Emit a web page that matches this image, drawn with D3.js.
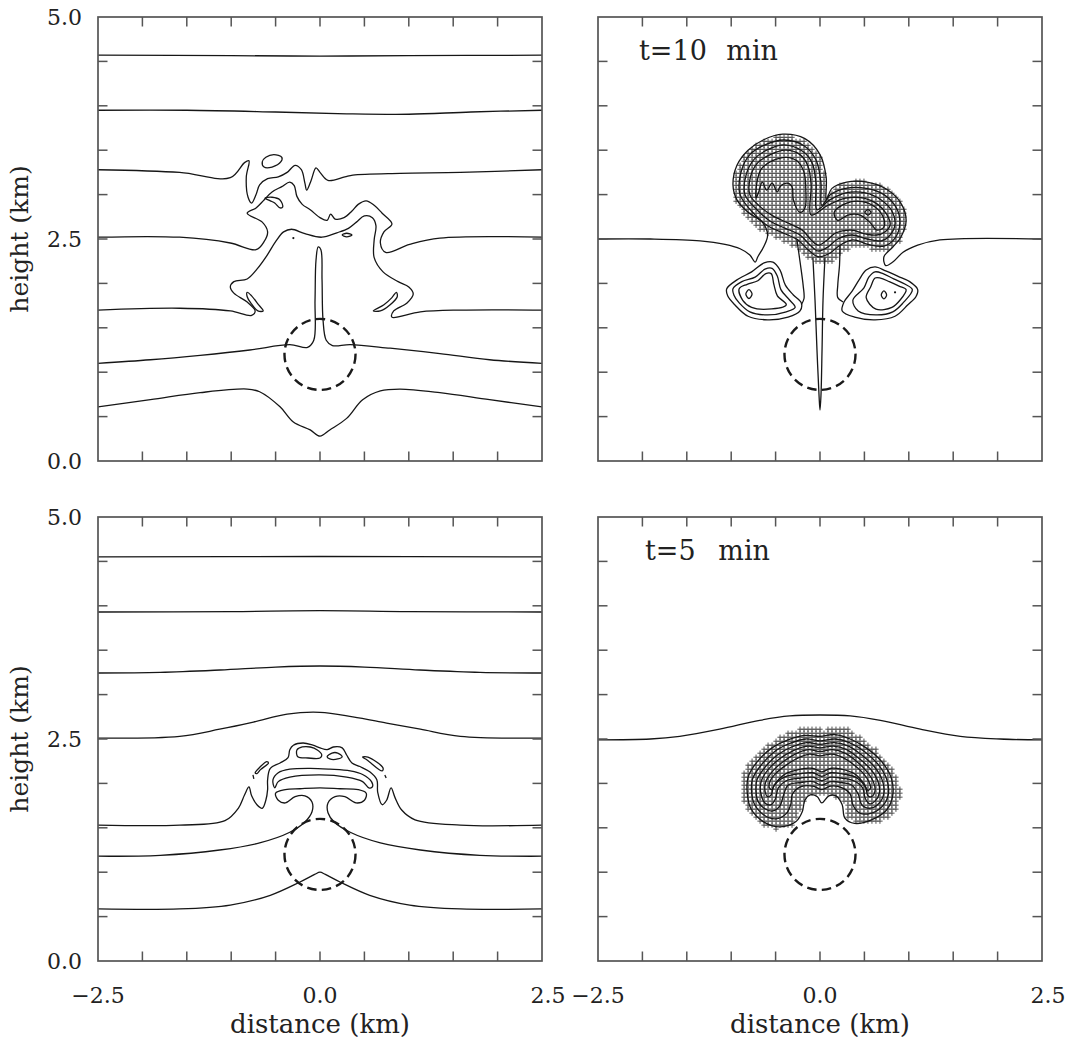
<!DOCTYPE html>
<html><head><meta charset="utf-8">
<script src="https://cdn.jsdelivr.net/npm/d3@7"></script>
<style>body{margin:0;background:#fff}svg{display:block}text{font-family:"DejaVu Serif",serif;fill:#222}</style>
</head><body><svg id="c" width="1070" height="1042"></svg>
<script>
// ---------- axes data (km) ----------
const xTickValues = [-2.0,-1.5,-1.0,-0.5,0,0.5,1.0,1.5,2.0];
const yTickValues = [0.5,1.0,1.5,2.0,2.5,3.0,3.5,4.0,4.5];
const xLabelValues = [-2.5,0.0,2.5];
const yLabelValues = [0.0,2.5,5.0];
const bubble = {cx:0, cy:1.2, r:0.4};

// ---------- top-left panel (later time) ----------
const tlLineA = [[-2.5,4.57],[-1.0,4.565],[0,4.56],[1.0,4.565],[2.5,4.57]];
const tlLineB = [[-2.5,3.95],[-1.5,3.95],[-0.5,3.93],[0.3,3.91],[1.0,3.905],[1.7,3.93],[2.5,3.95]];
const tlLineC = [[-2.5,3.28],[-1.58,3.25],[-1.01,3.19],[-0.85,3.36],[-0.80,3.38],[-0.83,3.20],[-0.81,2.97],[-0.77,2.905],[-0.72,3.00],[-0.68,3.11],[-0.59,3.18],[-0.47,3.20],[-0.37,3.25],[-0.28,3.33],[-0.21,3.28],[-0.17,3.13],[-0.15,3.05],[-0.10,3.16],[-0.045,3.30],[0,3.25],[0.09,3.16],[0.28,3.20],[0.37,3.22],[0.90,3.24],[1.58,3.25],[2.5,3.28]];
const tlLineD = [[-2.5,2.52],[-1.58,2.52],[-1.01,2.455],[-0.72,2.38],[-0.63,2.47],[-0.59,2.58],[-0.65,2.69],[-0.82,2.79],[-0.72,2.85],[-0.63,2.94],[-0.54,3.03],[-0.43,3.09],[-0.34,3.14],[-0.29,3.10],[-0.26,2.98],[-0.20,2.89],[-0.11,2.83],[0,2.74],[0.08,2.71],[0.12,2.78],[0.17,2.725],[0.27,2.74],[0.36,2.815],[0.43,2.89],[0.52,2.93],[0.61,2.88],[0.70,2.79],[0.81,2.67],[0.72,2.58],[0.68,2.455],[0.74,2.35],[1.01,2.44],[1.35,2.51],[2.5,2.52]];
const tlLineE = [[-2.5,1.70],[-1.58,1.72],[-1.01,1.69],[-0.77,1.64],[-0.73,1.69],[-0.82,1.79],[-0.97,1.89],[-1.01,1.96],[-0.97,2.02],[-0.82,2.05],[-0.71,2.16],[-0.60,2.31],[-0.50,2.47],[-0.41,2.58],[-0.32,2.61],[-0.17,2.56],[0.02,2.52],[0.19,2.57],[0.32,2.62],[0.41,2.69],[0.50,2.76],[0.59,2.74],[0.63,2.65],[0.61,2.49],[0.61,2.29],[0.71,2.13],[0.88,2.02],[1.00,1.96],[1.05,1.88],[0.98,1.78],[0.83,1.69],[0.81,1.62],[1.13,1.68],[1.58,1.70],[2.5,1.70]];
const tlLineF = [[-2.5,1.10],[-1.91,1.14],[-1.35,1.19],[-0.79,1.25],[-0.34,1.31],[-0.14,1.28],[-0.07,1.36],[-0.056,1.81],[-0.045,2.26],[-0.02,2.41],[0.01,2.38],[0.023,2.04],[0.034,1.59],[0.07,1.36],[0.14,1.30],[0.34,1.31],[0.79,1.27],[1.35,1.21],[1.91,1.14],[2.5,1.10]];
const tlLineG = [[-2.5,0.61],[-1.91,0.69],[-1.35,0.77],[-0.82,0.81],[-0.68,0.78],[-0.45,0.61],[-0.30,0.44],[-0.11,0.35],[0,0.28],[0.11,0.35],[0.30,0.48],[0.48,0.69],[0.68,0.79],[0.90,0.81],[1.35,0.77],[1.91,0.69],[2.5,0.61]];
const tlHead = [[-0.65,3.37],[-0.61,3.42],[-0.52,3.45],[-0.43,3.42],[-0.44,3.37],[-0.54,3.31],[-0.63,3.31]];
const tlLoopSmall = [[-0.62,2.96],[-0.54,2.97],[-0.45,2.94],[-0.42,2.86],[-0.45,2.85],[-0.51,2.905],[-0.56,2.93]];
const tlEllipse = [[0.25,2.545],[0.30,2.565],[0.36,2.545],[0.30,2.525]];
const tlLeafL = [[-0.82,1.90],[-0.77,1.86],[-0.70,1.77],[-0.64,1.69],[-0.70,1.69],[-0.78,1.78],[-0.82,1.85]];
const tlLeafR = [[0.86,1.90],[0.81,1.84],[0.72,1.76],[0.60,1.69],[0.68,1.69],[0.79,1.76],[0.87,1.85]];
const tlDots = [[-0.30,2.51]];

// ---------- top-right panel (t=10 min) ----------
const trLine25 = [[-2.5,2.5],[-1.91,2.5],[-1.35,2.48],[-1.07,2.44],[-0.90,2.39],[-0.79,2.32],[-0.73,2.24],[-0.70,2.30],[-0.63,2.42],[-0.59,2.545],[-0.65,2.69],[-0.81,2.80],[-0.935,2.94],[-0.98,3.11],[-0.935,3.33],[-0.81,3.50],[-0.64,3.615],[-0.42,3.68],[-0.17,3.63],[0,3.45],[0.07,3.19],[0.07,2.94],[0.135,3.07],[0.30,3.14],[0.53,3.14],[0.75,3.06],[0.91,2.905],[0.97,2.71],[0.91,2.52],[0.82,2.41],[0.72,2.30],[0.74,2.20],[0.82,2.24],[0.935,2.35],[1.10,2.43],[1.35,2.49],[2.5,2.5]];
const trL1 = [[-0.90,3.00],[-0.89,3.25],[-0.79,3.45],[-0.62,3.56],[-0.405,3.615],[-0.18,3.55],[-0.045,3.39],[0.01,3.14],[0.02,2.88],[0.12,3.00],[0.29,3.07],[0.52,3.07],[0.72,3.00],[0.86,2.85],[0.90,2.68],[0.845,2.51],[0.72,2.42],[0.54,2.44],[0.37,2.49],[0.225,2.43],[0.11,2.34],[-0.02,2.30],[-0.135,2.38],[-0.25,2.49],[-0.42,2.57],[-0.59,2.65],[-0.74,2.78]];
const trL2 = [[-0.845,3.00],[-0.83,3.23],[-0.74,3.40],[-0.60,3.50],[-0.405,3.56],[-0.20,3.49],[-0.09,3.36],[-0.045,3.13],[-0.034,2.83],[0.11,2.94],[0.29,3.02],[0.51,3.02],[0.69,2.94],[0.81,2.815],[0.845,2.67],[0.79,2.545],[0.69,2.48],[0.53,2.50],[0.36,2.545],[0.20,2.50],[0.09,2.41],[-0.02,2.365],[-0.11,2.43],[-0.225,2.545],[-0.39,2.62],[-0.56,2.70],[-0.71,2.83]];
const trL3 = [[-0.79,3.00],[-0.78,3.21],[-0.70,3.36],[-0.56,3.45],[-0.39,3.50],[-0.225,3.45],[-0.135,3.32],[-0.10,3.11],[-0.10,2.77],[0.09,2.88],[0.29,2.96],[0.495,2.96],[0.65,2.89],[0.75,2.78],[0.79,2.66],[0.73,2.58],[0.64,2.545],[0.52,2.555],[0.35,2.60],[0.18,2.57],[0.07,2.48],[-0.02,2.43],[-0.10,2.49],[-0.20,2.60],[-0.36,2.68],[-0.53,2.76],[-0.68,2.87]];
const trL4 = [[-0.72,2.96],[-0.71,3.14],[-0.66,3.29],[-0.54,3.38],[-0.38,3.42],[-0.26,3.38],[-0.18,3.25],[-0.16,3.05],[-0.17,2.85],[-0.225,2.80],[-0.30,2.94],[-0.315,3.09],[-0.37,3.13],[-0.45,3.09],[-0.48,3.03],[-0.54,3.13],[-0.60,3.05],[-0.65,3.14],[-0.69,3.03]];
const trR4 = [[0.16,2.80],[0.30,2.905],[0.48,2.92],[0.62,2.86],[0.71,2.75],[0.72,2.635],[0.64,2.60],[0.56,2.69],[0.45,2.77],[0.315,2.77],[0.20,2.71]];
const trRloop = [[0.505,2.80],[0.54,2.83],[0.575,2.80],[0.54,2.77]];
const trStalk = [[-0.08,2.29],[-0.056,1.81],[-0.034,1.25],[-0.011,0.74],[0,0.574],[0.011,0.74],[0.023,1.25],[0.034,1.81],[0.056,2.29]];
const trNeckL = [[-0.26,2.49],[-0.22,2.21],[-0.19,1.98],[-0.18,1.83],[-0.21,1.76]];
const trNeckR = [[0.225,2.43],[0.22,2.21],[0.20,1.98],[0.20,1.84],[0.26,1.79]];
const trLL1 = [[-1.05,1.94],[-0.935,2.04],[-0.77,2.13],[-0.63,2.23],[-0.53,2.24],[-0.45,2.15],[-0.39,1.98],[-0.30,1.87],[-0.21,1.78],[-0.225,1.69],[-0.36,1.62],[-0.59,1.59],[-0.81,1.63],[-0.96,1.76],[-1.04,1.86]];
const trLL2 = [[-0.98,1.94],[-0.88,2.02],[-0.73,2.07],[-0.62,2.16],[-0.54,2.17],[-0.48,2.08],[-0.44,1.93],[-0.34,1.81],[-0.28,1.73],[-0.38,1.68],[-0.59,1.645],[-0.79,1.68],[-0.91,1.78],[-0.97,1.87]];
const trLL3 = [[-0.91,1.94],[-0.82,1.99],[-0.70,2.03],[-0.61,2.11],[-0.55,2.11],[-0.52,1.99],[-0.48,1.86],[-0.38,1.76],[-0.59,1.71],[-0.77,1.73],[-0.87,1.81]];
const trLLin = [[-0.835,1.88],[-0.80,1.93],[-0.765,1.88],[-0.80,1.83]];
const trRL1 = [[1.10,1.93],[1.01,2.02],[0.88,2.08],[0.74,2.14],[0.62,2.185],[0.52,2.15],[0.44,2.04],[0.36,1.91],[0.27,1.79],[0.25,1.69],[0.39,1.62],[0.62,1.59],[0.845,1.63],[0.99,1.76],[1.08,1.85]];
const trRL2 = [[1.04,1.93],[0.96,1.99],[0.83,2.05],[0.71,2.11],[0.62,2.13],[0.55,2.07],[0.495,1.95],[0.37,1.81],[0.43,1.69],[0.63,1.645],[0.82,1.68],[0.935,1.78]];
const trRL3 = [[0.97,1.93],[0.89,1.97],[0.78,2.02],[0.68,2.06],[0.62,2.06],[0.57,1.96],[0.52,1.84],[0.63,1.71],[0.81,1.73],[0.90,1.81]];
const trRLin = [[0.69,1.87],[0.72,1.915],[0.75,1.87],[0.72,1.825]];
const trDots = [[0.845,1.90]];
const trHatch = [[-0.96,2.94],[-0.95,3.25],[-0.845,3.48],[-0.65,3.615],[-0.405,3.68],[-0.16,3.615],[0,3.435],[0.07,3.16],[0.08,2.98],[0.20,3.11],[0.405,3.16],[0.63,3.14],[0.82,3.05],[0.945,2.88],[0.98,2.69],[0.92,2.49],[0.79,2.38],[0.60,2.38],[0.405,2.42],[0.26,2.35],[0.15,2.25],[0,2.22],[-0.16,2.29],[-0.28,2.41],[-0.45,2.49],[-0.63,2.57],[-0.81,2.71]];

// ---------- bottom-left panel ----------
const blLineA = [[-2.5,4.55],[0,4.555],[2.5,4.55]];
const blLineB = [[-2.5,3.93],[-1.0,3.935],[0,3.945],[1.0,3.935],[2.5,3.93]];
const blLineC = [[-2.5,3.243],[-1.8,3.25],[-1.126,3.277],[-0.5,3.31],[0,3.322],[0.5,3.31],[1.126,3.277],[1.8,3.25],[2.5,3.243]];
const blLineD = [[-2.5,2.51],[-1.58,2.53],[-1.13,2.61],[-0.75,2.69],[-0.37,2.78],[0,2.80],[0.37,2.75],[0.75,2.68],[1.13,2.61],[1.58,2.53],[2.5,2.51]];
const blLineE = [[-2.5,1.53],[-1.58,1.53],[-1.07,1.58],[-0.92,1.72],[-0.85,1.87],[-0.80,1.96],[-0.77,1.86],[-0.71,1.76],[-0.65,1.72],[-0.61,1.81],[-0.59,1.93],[-0.59,2.04],[-0.56,2.17],[-0.45,2.23],[-0.36,2.29],[-0.34,2.38],[-0.30,2.43],[-0.19,2.455],[-0.08,2.43],[0,2.40],[0.08,2.38],[0.15,2.41],[0.25,2.40],[0.30,2.32],[0.36,2.23],[0.45,2.19],[0.56,2.13],[0.64,2.04],[0.65,1.90],[0.70,1.76],[0.75,1.81],[0.80,1.95],[0.845,1.84],[0.92,1.70],[1.07,1.59],[1.58,1.53],[2.5,1.53]];
const blArch = [[-0.53,2.04],[-0.47,2.12],[-0.34,2.16],[-0.11,2.17],[0.11,2.16],[0.34,2.14],[0.48,2.10],[0.58,2.02],[0.59,1.96],[0.55,1.95],[0.48,2.02],[0.30,2.07],[0,2.095],[-0.34,2.07],[-0.47,2.02],[-0.51,1.95]];
const blTopLoopL = [[-0.26,2.376],[-0.20,2.41],[-0.11,2.41],[-0.03,2.376],[0.02,2.32],[0,2.286],[-0.135,2.286],[-0.25,2.30]];
const blTopLoopR = [[0.08,2.30],[0.135,2.342],[0.20,2.342],[0.25,2.30],[0.20,2.275],[0.11,2.275]];
const blBitL = [[-0.73,2.12],[-0.68,2.18],[-0.60,2.245],[-0.58,2.23],[-0.67,2.155],[-0.71,2.11]];
const blBitR = [[0.48,2.297],[0.54,2.297],[0.71,2.173],[0.70,2.14],[0.53,2.264]];
const blTinyL = [[-0.755,2.095],[-0.745,2.05]];
const blTinyR = [[0.73,2.095],[0.745,2.06]];
const blLineF = [[-2.5,1.18],[-1.80,1.19],[-1.13,1.25],[-0.68,1.33],[-0.34,1.45],[-0.17,1.565],[-0.09,1.68],[-0.09,1.79],[-0.17,1.86],[-0.28,1.85],[-0.39,1.78],[-0.47,1.81],[-0.50,1.89],[-0.39,1.93],[-0.225,1.94],[0,1.95],[0.225,1.94],[0.43,1.93],[0.52,1.89],[0.50,1.81],[0.405,1.78],[0.28,1.85],[0.17,1.85],[0.09,1.78],[0.09,1.67],[0.16,1.565],[0.34,1.45],[0.68,1.33],[1.13,1.25],[1.80,1.19],[2.5,1.18]];
const blLineG = [[-2.5,0.586],[-1.58,0.586],[-1.01,0.63],[-0.56,0.74],[-0.225,0.89],[-0.06,0.975],[0,1.0],[0.06,0.975],[0.225,0.89],[0.56,0.74],[1.01,0.63],[1.58,0.586],[2.5,0.586]];

// ---------- bottom-right panel (t=5 min) ----------
const br25 = [[-2.5,2.49],[-1.91,2.50],[-1.58,2.53],[-1.13,2.61],[-0.68,2.71],[-0.34,2.76],[0,2.77],[0.34,2.76],[0.68,2.71],[1.13,2.61],[1.58,2.53],[2.03,2.50],[2.5,2.49]];
const brK0 = [[-0.82,1.90],[-0.81,2.07],[-0.71,2.24],[-0.54,2.40],[-0.36,2.49],[-0.17,2.54],[0,2.53],[0.17,2.55],[0.34,2.50],[0.52,2.40],[0.69,2.25],[0.80,2.07],[0.82,1.87],[0.75,1.70],[0.58,1.59],[0.39,1.55],[0.28,1.61],[0.25,1.76],[0.18,1.86],[0.10,1.86],[0.02,1.78],[-0.03,1.85],[-0.11,1.87],[-0.17,1.81],[-0.20,1.68],[-0.27,1.57],[-0.45,1.51],[-0.64,1.57],[-0.78,1.72]];
const brK1 = [[-0.77,1.90],[-0.76,2.05],[-0.66,2.21],[-0.51,2.36],[-0.34,2.45],[-0.16,2.50],[0,2.48],[0.17,2.50],[0.33,2.46],[0.50,2.36],[0.65,2.22],[0.75,2.05],[0.77,1.88],[0.70,1.74],[0.56,1.66],[0.44,1.67],[0.37,1.76],[0.34,1.88],[0.25,1.95],[0.12,1.97],[0.02,1.93],[-0.08,1.97],[-0.22,1.96],[-0.31,1.88],[-0.33,1.76],[-0.38,1.66],[-0.50,1.60],[-0.64,1.65],[-0.74,1.77]];
const brK2 = [[-0.72,1.90],[-0.71,2.04],[-0.62,2.18],[-0.48,2.32],[-0.32,2.41],[-0.15,2.46],[0,2.44],[0.16,2.46],[0.32,2.42],[0.47,2.32],[0.61,2.19],[0.70,2.04],[0.72,1.89],[0.66,1.77],[0.56,1.72],[0.47,1.76],[0.43,1.88],[0.36,1.98],[0.24,2.01],[0.12,2.02],[0.02,1.98],[-0.08,2.02],[-0.22,2.01],[-0.36,1.98],[-0.41,1.87],[-0.45,1.75],[-0.53,1.69],[-0.63,1.72],[-0.70,1.80]];
const brK3 = [[-0.67,1.91],[-0.66,2.03],[-0.58,2.16],[-0.45,2.28],[-0.30,2.37],[-0.14,2.42],[0,2.40],[0.15,2.42],[0.30,2.38],[0.44,2.28],[0.57,2.16],[0.65,2.03],[0.67,1.90],[0.62,1.80],[0.56,1.77],[0.51,1.83],[0.48,1.95],[0.38,2.03],[0.24,2.06],[0.12,2.07],[0.02,2.03],[-0.08,2.07],[-0.22,2.06],[-0.38,2.03],[-0.47,1.95],[-0.50,1.83],[-0.55,1.76],[-0.62,1.78]];
const brK4 = [[-0.62,1.92],[-0.61,2.02],[-0.54,2.13],[-0.42,2.24],[-0.28,2.33],[-0.13,2.38],[0,2.36],[0.14,2.38],[0.28,2.34],[0.41,2.25],[0.53,2.13],[0.60,2.02],[0.62,1.92],[0.58,1.85],[0.54,1.86],[0.51,1.96],[0.40,2.07],[0.24,2.11],[0.12,2.12],[0.02,2.08],[-0.08,2.12],[-0.22,2.11],[-0.40,2.07],[-0.52,1.97],[-0.55,1.87],[-0.59,1.85]];
const brK5 = [[-0.57,1.95],[-0.56,2.03],[-0.50,2.11],[-0.39,2.20],[-0.26,2.28],[-0.12,2.33],[0,2.31],[0.13,2.33],[0.26,2.29],[0.38,2.21],[0.49,2.11],[0.55,2.02],[0.57,1.95],[0.54,1.92],[0.50,1.99],[0.40,2.10],[0.24,2.16],[0.12,2.17],[0.02,2.13],[-0.08,2.17],[-0.22,2.16],[-0.40,2.10],[-0.51,1.99],[-0.54,1.93]];
const brHatch = [[-0.90,1.88],[-0.89,2.08],[-0.78,2.28],[-0.58,2.45],[-0.38,2.56],[-0.20,2.64],[-0.05,2.64],[0.05,2.60],[0.15,2.65],[0.30,2.62],[0.45,2.52],[0.62,2.40],[0.78,2.22],[0.88,2.04],[0.92,1.86],[0.86,1.68],[0.70,1.56],[0.50,1.53],[0.32,1.60],[0.26,1.80],[0.15,1.86],[-0.15,1.86],[-0.22,1.70],[-0.30,1.53],[-0.48,1.48],[-0.68,1.54],[-0.83,1.70]];

// ---------- drawing ----------
const svg = d3.select('#c');
svg.append('rect').attr('width',1070).attr('height',1042).attr('fill','#fff');
const SIZE = 444;
const panels = [
  {x0:98, y0:17, open:[tlLineA,tlLineB,tlLineC,tlLineD,tlLineE,tlLineF,tlLineG], closed:[tlHead,tlLoopSmall,tlEllipse,tlLeafL,tlLeafR], dots:tlDots, hatch:null, yLab:true, xLab:false},
  {x0:598, y0:17, open:[trLine25,trStalk,trNeckL,trNeckR], closed:[trL1,trL2,trL3,trL4,trR4,trRloop,trLL1,trLL2,trLL3,trLLin,trRL1,trRL2,trRL3,trRLin], dots:trDots, hatch:trHatch, yLab:false, xLab:false, title:['t=10','min',639,778,60]},
  {x0:98, y0:517, open:[blLineA,blLineB,blLineC,blLineD,blLineE,blLineF,blLineG,blTinyL,blTinyR], closed:[blArch,blTopLoopL,blTopLoopR,blBitL,blBitR], dots:[], hatch:null, yLab:true, xLab:true},
  {x0:598, y0:517, open:[br25], closed:[brK0,brK1,brK2,brK3,brK4,brK5], dots:[], hatch:brHatch, yLab:false, xLab:true, title:['t=5','min',645,770,560]}
];
const frameColor = '#555';

panels.forEach((p,i)=>{
  const x = d3.scaleLinear().domain([-2.5,2.5]).range([p.x0, p.x0+SIZE]);
  const y = d3.scaleLinear().domain([0,5]).range([p.y0+SIZE, p.y0]);
  const clipId = 'clip'+i;
  svg.append('clipPath').attr('id',clipId).append('rect')
    .attr('x',p.x0).attr('y',p.y0).attr('width',SIZE).attr('height',SIZE);
  const g = svg.append('g').attr('clip-path',`url(#${clipId})`);

  if (p.hatch){
    const step=0.045, arm=0.03;
    const [hx0,hx1]=d3.extent(p.hatch,d=>d[0]), [hy0,hy1]=d3.extent(p.hatch,d=>d[1]);
    let path='';
    const a = x(arm)-x(0);
    for (let gx=Math.ceil(hx0/step)*step; gx<=hx1; gx+=step)
      for (let gy=Math.ceil(hy0/step)*step; gy<=hy1; gy+=step)
        if (d3.polygonContains(p.hatch,[gx,gy])){
          const X=x(gx), Y=y(gy);
          path+=`M${X-a},${Y}H${X+a}M${X},${Y-a}V${Y+a}`;
        }
    g.append('path').attr('d',path).attr('stroke','#333').attr('stroke-width',0.85).attr('fill','none');
  }

  const lineOpen = d3.line().x(d=>x(d[0])).y(d=>y(d[1])).curve(d3.curveCatmullRom.alpha(0.5));
  const lineClosed = d3.line().x(d=>x(d[0])).y(d=>y(d[1])).curve(d3.curveCatmullRomClosed.alpha(0.5));
  g.selectAll(null).data(p.open).join('path').attr('d',lineOpen)
    .attr('fill','none').attr('stroke','#161616').attr('stroke-width',1.3);
  g.selectAll(null).data(p.closed).join('path').attr('d',lineClosed)
    .attr('fill','none').attr('stroke','#161616').attr('stroke-width',1.3);
  g.selectAll(null).data(p.dots).join('circle').attr('cx',d=>x(d[0])).attr('cy',d=>y(d[1]))
    .attr('r',1.1).attr('fill','#161616');

  // dashed bubble outline
  g.append('circle').attr('cx',x(bubble.cx)).attr('cy',y(bubble.cy)).attr('r',x(bubble.r)-x(0))
    .attr('fill','none').attr('stroke','#1a1a1a').attr('stroke-width',2.4).attr('stroke-dasharray','9.5,5.3');

  // frame + ticks
  svg.append('rect').attr('x',p.x0).attr('y',p.y0).attr('width',SIZE).attr('height',SIZE)
    .attr('fill','none').attr('stroke',frameColor).attr('stroke-width',1.7);
  const tl = 9.5;
  const tk = svg.append('g').attr('stroke',frameColor).attr('stroke-width',1.5);
  xTickValues.forEach(t=>{
    tk.append('line').attr('x1',x(t)).attr('x2',x(t)).attr('y1',p.y0+SIZE).attr('y2',p.y0+SIZE-tl);
    tk.append('line').attr('x1',x(t)).attr('x2',x(t)).attr('y1',p.y0).attr('y2',p.y0+tl);
  });
  yTickValues.forEach(t=>{
    tk.append('line').attr('y1',y(t)).attr('y2',y(t)).attr('x1',p.x0).attr('x2',p.x0+tl);
    tk.append('line').attr('y1',y(t)).attr('y2',y(t)).attr('x1',p.x0+SIZE).attr('x2',p.x0+SIZE-tl);
  });

  if (p.yLab){
    yLabelValues.forEach(v=>{
      svg.append('text').attr('x',p.x0-16).attr('y',y(v)+8).attr('text-anchor','end')
        .attr('font-size',22).text(v.toFixed(1));
    });
    svg.append('text').attr('transform',`translate(28,${p.y0+SIZE/2}) rotate(-90)`)
      .attr('text-anchor','middle').attr('font-size',25).text('height (km)');
  }
  if (p.xLab){
    xLabelValues.forEach(v=>{
      svg.append('text').attr('x',x(v)+(v>0?6:0)).attr('y',1003).attr('text-anchor','middle')
        .attr('font-size',22).text(v<0?'\u2212'+Math.abs(v).toFixed(1):v.toFixed(1));
    });
    svg.append('text').attr('x',p.x0+SIZE/2).attr('y',1033).attr('text-anchor','middle')
      .attr('font-size',26).text('distance (km)');
  }
  if (p.title){
    svg.append('text').attr('x',p.title[2]).attr('y',p.title[4]).attr('font-size',27).text(p.title[0]);
    svg.append('text').attr('x',p.title[3]).attr('y',p.title[4]).attr('text-anchor','end').attr('font-size',27).text(p.title[1]);
  }
});
</script></body></html>
